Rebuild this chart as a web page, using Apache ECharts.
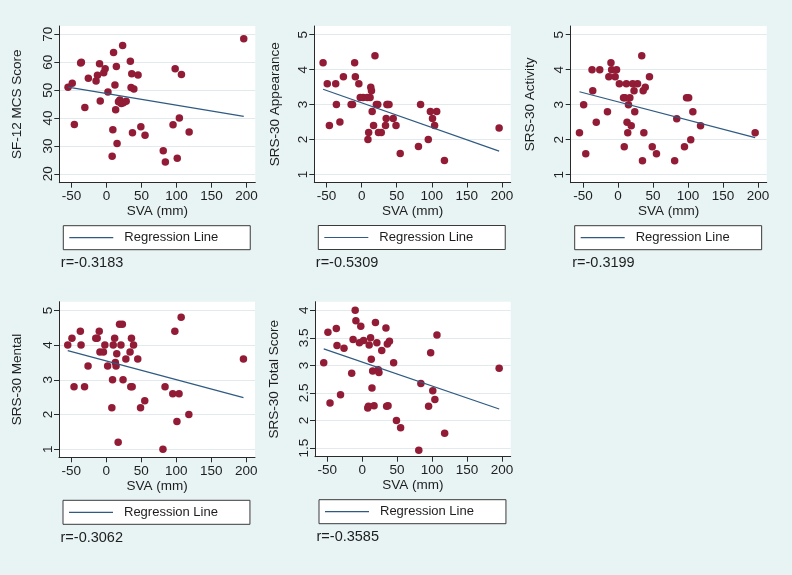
<!DOCTYPE html>
<html><head><meta charset="utf-8">
<script src="https://cdn.jsdelivr.net/npm/echarts@6/dist/echarts.min.js"></script>
<style>html,body{margin:0;padding:0;background:#e8f3f4;}#c{width:792px;height:575px;}</style>
</head><body><div id="c"></div>
<script>
// ---- data ----
const sva = [-55, -49, -46, -37, -36, -31, -26, -15, -13, -10, -9, -4, -2, 2, 8, 9, 10, 12, 13, 14, 15, 17, 19, 21, 23, 24, 28, 34, 35, 36, 37, 39, 45, 49, 55, 81, 84, 95, 98, 101, 104, 107, 118, 196];
const mcs = [51, 52.5, 37.7, 59.7, 60, 43.8, 54.3, 53.3, 55.3, 59.5, 46.1, 56.2, 57.7, 49.3, 26.3, 35.8, 63.5, 51.8, 43, 58.5, 30.9, 45.8, 46.5, 45.2, 66, 45.5, 46, 60.4, 50.9, 55.9, 34.7, 50.4, 55.4, 36.9, 33.8, 28.3, 24.2, 37.6, 57.7, 25.6, 40, 55.6, 35, 68.4];
const appearance = [4.2, 3.6, 2.4, 3.6, 3.0, 2.5, 3.8, 3.0, 3.0, 4.2, 3.8, 3.6, 3.2, 3.2, 3.2, 2.0, 2.2, 3.2, 3.5, 3.4, 2.8, 2.4, 4.4, 3.0, 3.0, 2.2, 2.2, 2.4, 2.6, 3.0, 3.0, 3.0, 2.6, 2.4, 1.6, 1.8, 3.0, 2.0, 2.8, 2.6, 2.4, 2.8, 1.4, 2.33];
const activity = [2.2, 3.0, 1.6, 4.0, 3.4, 2.5, 4.0, 2.8, 3.8, 4.2, 4.0, 3.8, 4.0, 3.6, 3.2, 1.8, 3.2, 3.6, 2.5, 2.2, 3.0, 3.2, 2.4, 3.6, 3.4, 2.8, 3.6, 4.4, 1.4, 3.4, 2.2, 3.5, 3.8, 1.8, 1.6, 1.4, 2.6, 1.8, 3.2, 3.2, 2.0, 2.8, 2.4, 2.2];
const mental = [4.0, 4.2, 2.8, 4.4, 4.0, 2.8, 3.4, 4.2, 4.2, 4.4, 3.8, 3.8, 4.0, 3.4, 2.2, 3.0, 4.0, 4.2, 3.5, 3.4, 3.75, 1.2, 4.6, 4.0, 4.6, 3.0, 3.6, 3.8, 2.8, 4.2, 2.8, 4.0, 3.6, 2.2, 2.4, 1.0, 2.8, 2.6, 4.4, 1.8, 2.6, 4.8, 2.0, 3.6];
const total = [3.05, 3.6, 2.32, 3.67, 3.36, 2.47, 3.31, 2.86, 3.47, 4.0, 3.81, 3.41, 3.71, 3.45, 2.23, 2.26, 3.37, 3.5, 3.11, 2.59, 2.9, 2.27, 3.78, 3.41, 2.92, 2.87, 3.27, 3.68, 2.26, 3.39, 2.27, 3.44, 3.05, 2.0, 1.87, 1.46, 2.67, 2.26, 3.23, 2.54, 2.38, 3.55, 1.77, 2.95];
// regression line values at min and max SVA
const fitMcs = [51.1, 40.6];
const fitAppearance = [3.44, 1.67];
const fitActivity = [3.37, 2.06];
const fitMental = [3.84, 2.49];
const fitTotal = [3.30, 2.21];
const yTitles = ['SF-12 MCS Score', 'SRS-30 Appearance', 'SRS-30 Activity', 'SRS-30 Mental', 'SRS-30 Total Score'];
const rValues = ['r=-0.3183', 'r=-0.5309', 'r=-0.3199', 'r=-0.3062', 'r=-0.3585'];
const xTicks = [-50, 0, 50, 100, 150, 200];
const yTicksMcs = [20, 30, 40, 50, 60, 70];
const yTicksSrs = [1, 2, 3, 4, 5];
const yTicksTotal = [1.5, 2, 2.5, 3, 3.5, 4];
const xTitle = 'SVA (mm)';
const legendLabel = 'Regression Line';

// ---- layout / style ----
const FONT = "'Liberation Sans', Arial, sans-serif";
const TXT = '#1e1e1e';
const AX = '#2a2a2a';
const MARK = '#921c35';
const LINEC = '#2f5a82';
const panels = [
  {y: mcs, fit: fitMcs, ticks: yTicksMcs, ymin: 16.8, ymax: 73, left: 59.3, top: 26, w: 196, h: 156.7, gap: 35},
  {y: appearance, fit: fitAppearance, ticks: yTicksSrs, ymin: 0.77, ymax: 5.25, left: 314.3, top: 26, w: 196.4, h: 156.5, gap: 32},
  {y: activity, fit: fitActivity, ticks: yTicksSrs, ymin: 0.77, ymax: 5.25, left: 570.7, top: 26, w: 196, h: 156.7, gap: 33},
  {y: mental, fit: fitMental, ticks: yTicksSrs, ymin: 0.77, ymax: 5.25, left: 59, top: 301.7, w: 196, h: 155.6, gap: 35},
  {y: total, fit: fitTotal, ticks: yTicksTotal, ymin: 1.345, ymax: 4.155, left: 315, top: 301.7, w: 195.7, h: 155, gap: 34}
];
const svaMin = Math.min(...sva), svaMax = Math.max(...sva);

const grid = [], xAxis = [], yAxis = [], series = [], legend = [], title = [];
panels.forEach((p, i) => {
  grid.push({left: p.left, top: p.top, width: p.w, height: p.h, show: true, backgroundColor: '#ffffff', borderWidth: 0, containLabel: false});
  xAxis.push({
    gridIndex: i, type: 'value', min: -67.5, max: 212.5,
    name: xTitle, nameLocation: 'middle', nameGap: 22,
    nameTextStyle: {fontSize: 13.5, color: TXT, fontFamily: FONT},
    axisLine: {show: true, onZero: false, lineStyle: {color: AX, width: 1}},
    axisTick: {show: true, length: 5, customValues: xTicks, lineStyle: {color: AX, width: 1}},
    axisLabel: {customValues: xTicks, margin: 7, fontSize: 13.5, color: TXT, fontFamily: FONT},
    splitLine: {show: false}
  });
  yAxis.push({
    gridIndex: i, type: 'value', min: p.ymin, max: p.ymax,
    name: yTitles[i], nameLocation: 'middle', nameGap: p.gap, nameRotate: 90,
    nameTextStyle: {fontSize: 13.5, color: TXT, fontFamily: FONT},
    axisLine: {show: true, onZero: false, lineStyle: {color: AX, width: 1}},
    axisTick: {show: true, length: 5, customValues: p.ticks, lineStyle: {color: AX, width: 1}},
    axisLabel: {customValues: p.ticks, rotate: 90, margin: 4, fontSize: 13.5, color: TXT, fontFamily: FONT},
    splitLine: {show: true, lineStyle: {color: '#e2eaed', width: 1}}
  });
  series.push({
    type: 'scatter', xAxisIndex: i, yAxisIndex: i, silent: true,
    data: sva.map((x, k) => [x, p.y[k]]),
    symbolSize: 7.5, itemStyle: {color: MARK, opacity: 1}
  });
  series.push({
    type: 'line', name: legendLabel, xAxisIndex: i, yAxisIndex: i, silent: true,
    data: [[svaMin, p.fit[0]], [svaMax, p.fit[1]]],
    symbol: 'none', lineStyle: {color: LINEC, width: 1.2}, itemStyle: {color: LINEC}
  });
  const bottom = p.top + p.h;
  legend.push({
    data: [legendLabel], left: p.left + 4, top: bottom + 43,
    icon: 'rect', itemWidth: 44, itemHeight: 1.2,
    padding: [4.5, 32, 4.5, 6], borderColor: '#3a3a3a', borderWidth: 1, borderRadius: 0,
    backgroundColor: '#ffffff', selectedMode: false,
    textStyle: {fontSize: 13, color: TXT, fontFamily: FONT, lineHeight: 15, padding: [0, 0, 0, 6]}
  });
  title.push({
    text: rValues[i], left: p.left + 1.5, top: bottom + 73, padding: 0,
    textStyle: {fontSize: 14.5, fontWeight: 'normal', color: TXT, fontFamily: FONT}
  });
});

const chart = echarts.init(document.getElementById('c'), null, {renderer: 'canvas'});
chart.setOption({
  backgroundColor: '#e8f3f4', animation: false,
  grid, xAxis, yAxis, series, legend, title
});
</script>
</body></html>
